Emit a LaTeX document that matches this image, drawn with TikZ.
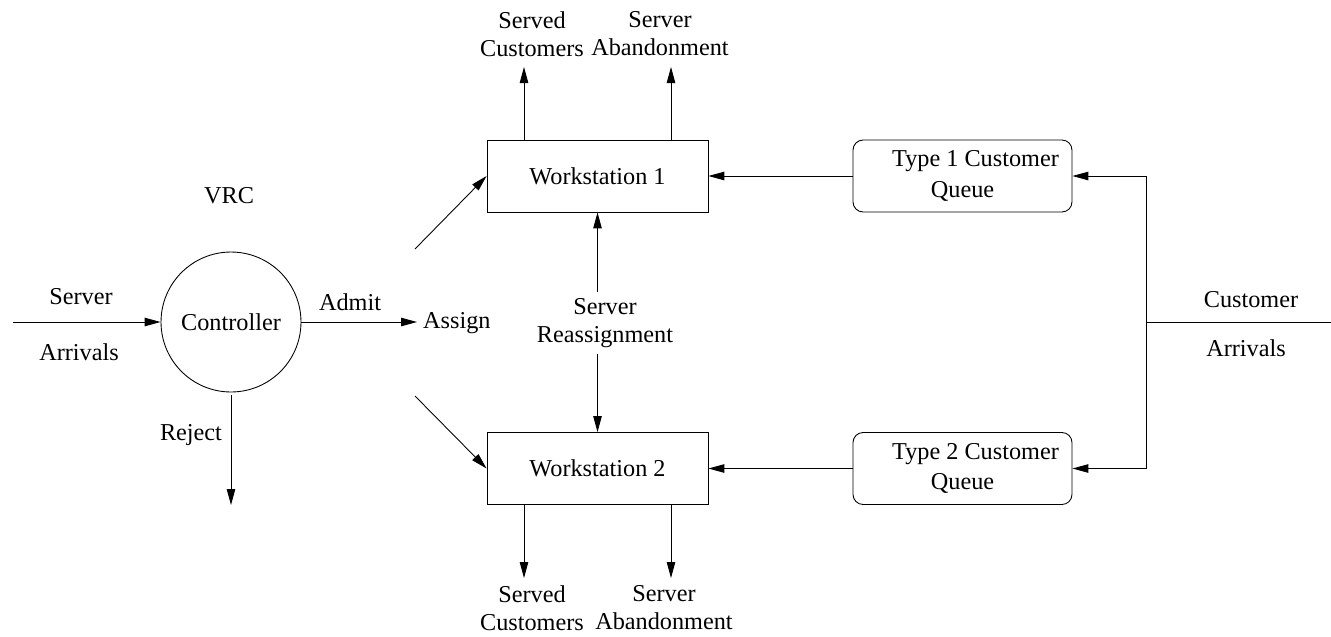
\documentclass[tikz,border=0pt]{standalone}
\usepackage{fontspec}
\setmainfont{Liberation Serif}
\usetikzlibrary{arrows.meta}
\begin{document}
\begin{tikzpicture}[x=0.02cm,y=-0.02cm,
  every node/.style={font=\fontsize{13.8}{15.9}\selectfont},
  line/.style={line width=0.5pt},
  arr/.style={line width=0.5pt,-{Triangle[length=0.32cm,width=0.17cm]}},
  wsbox/.style={draw,line width=0.5pt,minimum width=4.42cm,minimum height=1.44cm,inner sep=0pt},
  qbox/.style={draw,line width=0.5pt,rounded corners=0.2cm,minimum width=4.38cm,minimum height=1.44cm,inner sep=0pt,align=center,font=\fontsize{13.8}{17.5}\selectfont},
  lbl/.style={align=center}]
\useasboundingbox (0,0) rectangle (1331,636);
% main nodes
\node[draw,circle,line width=0.5pt,minimum size=2.8cm,inner sep=0pt] (ctrl) at (231,322) {Controller};
\node[wsbox] (ws1) at (597.5,176) {Workstation 1};
\node[wsbox] (ws2) at (597.5,468.5) {Workstation 2};
\node[qbox] (q1) at (962.5,176) {\hspace*{0.52cm}Type 1 Customer\\Queue};
\node[qbox] (q2) at (962.5,468.5) {\hspace*{0.52cm}Type 2 Customer\\Queue};
% labels
\node (vrc) at (229,196) {VRC};
\node (sarr1) at (81,297) {Server};
\node (sarr2) at (79,352) {Arrivals};
\node (admit) at (350,302) {Admit};
\node[anchor=west] (assign) at (417,323) {Assign};
\node (reject) at (191,435) {Reject};
\node[lbl] (sr) at (605,323) {Server\\Reassignment};
\node[lbl] (sc1) at (532,34) {Served\\Customers};
\node[lbl] (sa1) at (660,34) {Server\\Abandonment};
\node[lbl] (sc2) at (532,608) {Served\\Customers};
\node[lbl] (sa2) at (664,608) {Server\\Abandonment};
\node (carr1) at (1251,300) {Customer};
\node (carr2) at (1246,348) {Arrivals};
% coordinates
\coordinate (sin) at (13,322);
\coordinate (rej) at (231,505);
\coordinate (d1) at (415,249);
\coordinate (d2) at (415,396);
\coordinate (t1) at (524,67);
\coordinate (t2) at (671,67);
\coordinate (b1) at (524,578);
\coordinate (b2) at (671,578);
\coordinate (cin) at (1331,322);
\coordinate (j) at (1146,322);
% connectors
\draw[arr] (sin) -- (ctrl.west);
\draw[arr] (ctrl.east) -- (assign.west |- ctrl.east);
\draw[arr] (ctrl.south |- 0,395) -- (rej);
\draw[arr] (d1) -- (ws1.west);
\draw[arr] (d2) -- (ws2.west);
\draw[arr] (ws1.north -| t1) -- (t1);
\draw[arr] (ws1.north -| t2) -- (t2);
\draw[arr] (ws2.south -| b1) -- (b1);
\draw[arr] (ws2.south -| b2) -- (b2);
\draw[arr] (sr.north -| ws1.south) -- (ws1.south);
\draw[arr] (sr.south -| ws2.north) -- (ws2.north);
\draw[arr] (q1.west) -- (ws1.east);
\draw[arr] (q2.west) -- (ws2.east);
\draw[line] (cin) -- (j);
\draw[arr] (j) |- (q1.east);
\draw[arr] (j) |- (q2.east);
\end{tikzpicture}
\end{document}
